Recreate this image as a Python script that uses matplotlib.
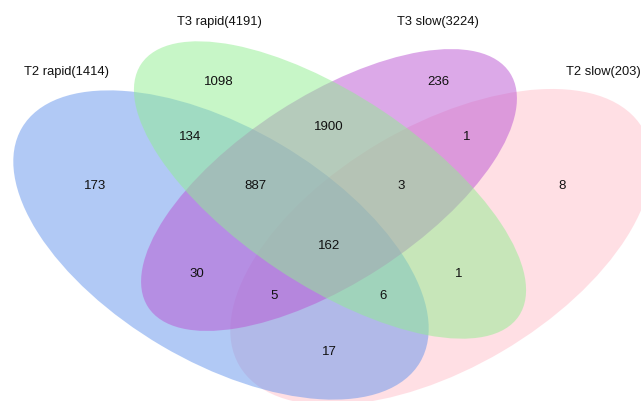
import matplotlib.pyplot as plt
from matplotlib.patches import Ellipse

plt.rcParams['font.family'] = ['Liberation Sans', 'DejaVu Sans']

# sets: A = T2 rapid, B = T3 rapid, C = T3 slow, D = T2 slow
set_keys = ['A', 'B', 'C', 'D']
set_names = ['T2 rapid', 'T3 rapid', 'T3 slow', 'T2 slow']
set_colors = ['cornflowerblue', 'lightgreen', 'mediumorchid', 'pink']

# counts for each region, keyed by the sets it belongs to
regions = ['A', 'B', 'C', 'D', 'AB', 'BC', 'CD', 'AC', 'BD', 'AD',
           'ABC', 'BCD', 'ACD', 'ABD', 'ABCD']
counts = [173, 1098, 236, 8, 134, 1900, 1, 30, 1, 17,
          887, 3, 5, 6, 162]

# layout (pixel coords, y down)
ellipses = {
    # center, width, height, angle
    'A': ((221, 245), 462, 234, 30.5),
    'B': ((330, 190), 454, 190, 33.7),
    'C': ((329, 190), 431, 187, -32.9),
    'D': ((441, 247), 468, 242, -30.5),
}
draw_order = ['D', 'A', 'C', 'B']
region_pos = {
    'A': (95, 186), 'B': (219, 82), 'C': (438, 82), 'D': (562, 186),
    'AB': (190, 137), 'BC': (329, 127), 'CD': (467, 137),
    'ABC': (255, 186), 'BCD': (401, 186), 'ABCD': (329, 246),
    'AC': (197, 274), 'ACD': (274, 296), 'ABD': (383, 296), 'BD': (459, 274),
    'AD': (329, 352),
}
title_pos = {'A': (66, 72), 'B': (219, 22), 'C': (438, 22), 'D': (603, 72)}

fig = plt.figure(figsize=(6.41, 4.01), dpi=100)
ax = fig.add_axes([0, 0, 1, 1])
ax.set_xlim(0, 641)
ax.set_ylim(401, 0)
ax.axis('off')

for k in draw_order:
    i = set_keys.index(k)
    (cx, cy), w, h, ang = ellipses[k]
    ax.add_patch(Ellipse((cx, cy), w, h, angle=ang, facecolor=set_colors[i],
                         edgecolor='none', alpha=0.5))

for r, n in zip(regions, counts):
    x, y = region_pos[r]
    ax.text(x, y, str(n), ha='center', va='center', fontsize=9.5, color='#111111')

# set totals in the titles
for i, k in enumerate(set_keys):
    total = sum(n for r, n in zip(regions, counts) if k in r)
    x, y = title_pos[k]
    ax.text(x, y, f'{set_names[i]}({total})', ha='center', va='center',
            fontsize=9.3, color='#111111')

fig.savefig('out.png', dpi=100)
